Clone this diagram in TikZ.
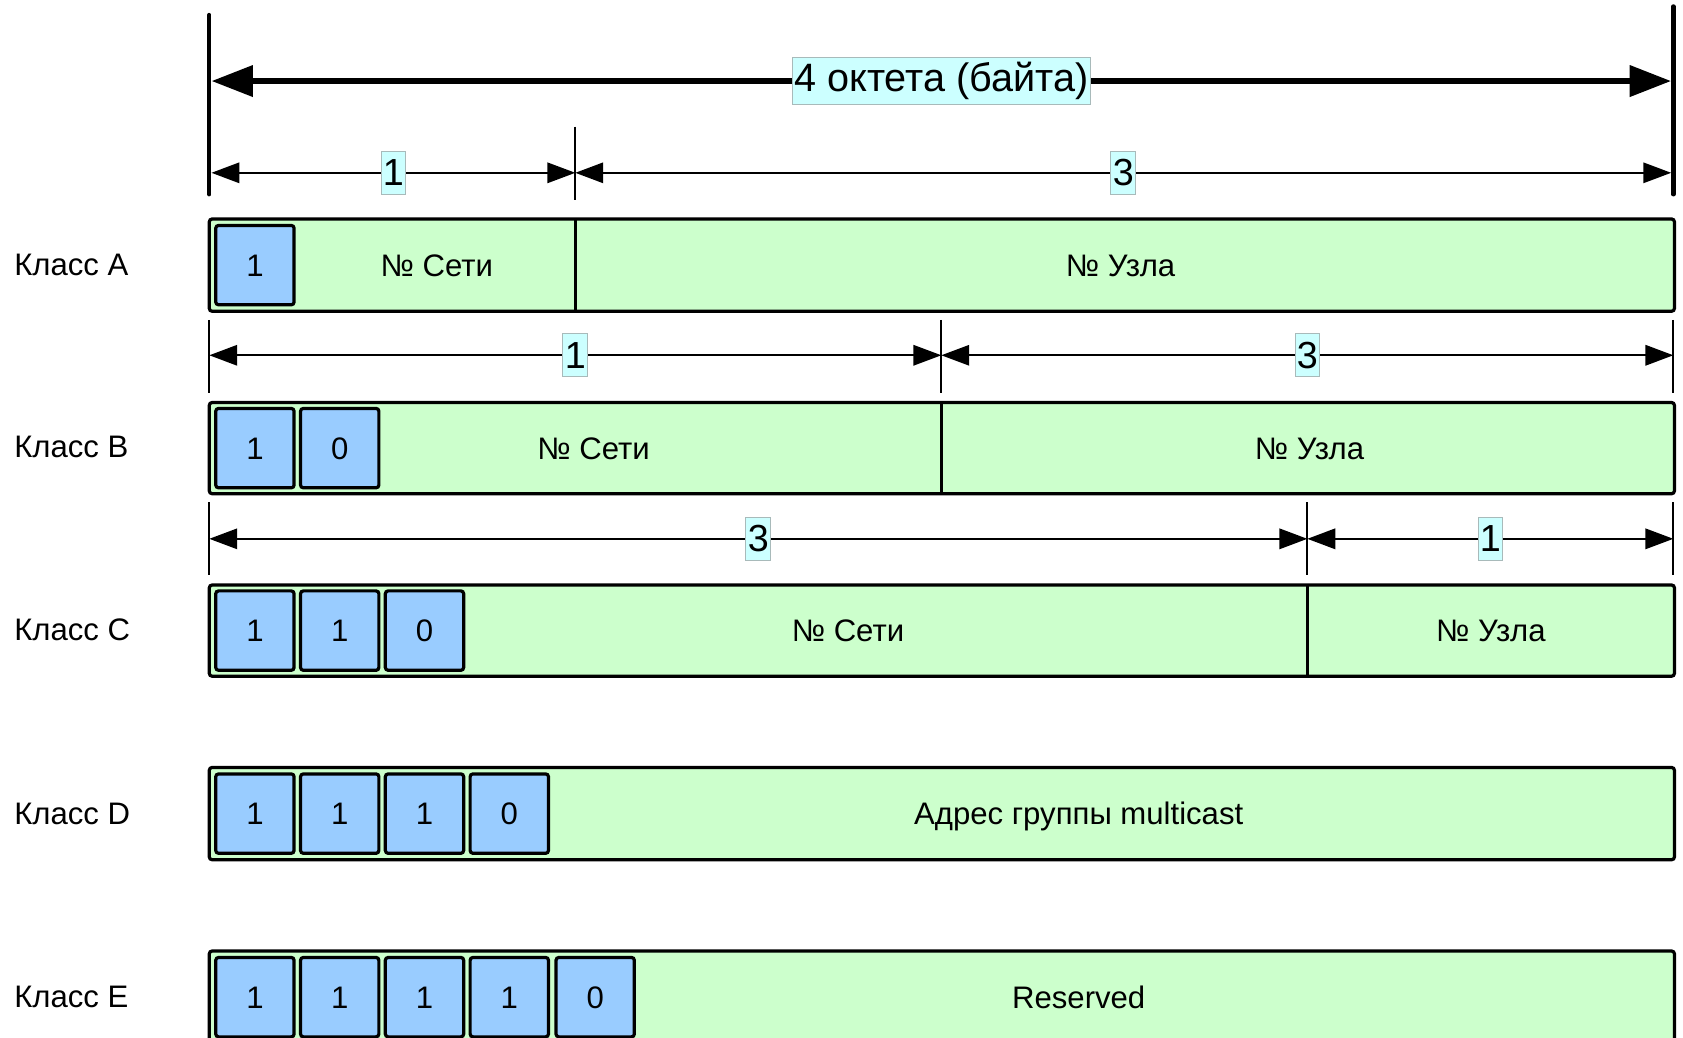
\documentclass[tikz,border=0pt]{standalone}
\usepackage{fontspec}
\setmainfont{Liberation Sans}
\usetikzlibrary{arrows.meta}
\definecolor{fieldgreen}{HTML}{CCFFCC}
\definecolor{bitblue}{HTML}{99CCFF}
\definecolor{tagcyan}{HTML}{CCFFFF}
\definecolor{taggray}{HTML}{A8BABA}
\begin{document}
\begin{tikzpicture}[x=0.02cm,y=-0.02cm,
  txt/.style={font=\fontsize{16.5}{18}\selectfont,text height=11.9pt,text depth=0pt},
  bar/.style={draw=black,fill=fieldgreen,line width=1.7pt,rounded corners=1.5pt},
  bit/.style={txt,draw=black,fill=bitblue,line width=1.7pt,rounded corners=1.5pt,minimum width=1.46cm,minimum height=1.48cm,inner sep=0pt},
  sep/.style={line width=1.5pt},
  tick/.style={line width=1.1pt},
  bigtick/.style={line width=2.3pt,line cap=round},
  dimarr/.style={line width=1.1pt,{Triangle[length=14.8pt,width=10.8pt]}-{Triangle[length=14.8pt,width=10.8pt]}},
  bigarr/.style={line width=3.4pt,{Triangle[length=22pt,width=16pt]}-{Triangle[length=22pt,width=16pt]}},
  tag/.style={fill=tagcyan,draw=taggray,line width=0.5pt,inner xsep=1pt,inner ysep=0pt,minimum height=23pt,font=\fontsize{20}{22}\selectfont},
  bigtag/.style={tag,minimum height=24.5pt,font=\fontsize{21}{23}\selectfont}]
\useasboundingbox (0,0) rectangle (1568,967);
% dimension lines
\draw[bigtick] (195,14) -- (195,181);
\draw[bigtick] (1559,6) -- (1559,181);
\coordinate (r0a) at (197,75.5);
\coordinate (r0b) at (1557,75.5);
\draw[bigarr] (r0a) -- node[bigtag] (all) {4 октета (байта)} (r0b);
\draw[tick] (536,118) -- (536,186);
\coordinate (r1a) at (197,161);
\coordinate (r1b) at (536,161);
\coordinate (r1c) at (1557,161);
\draw[dimarr] (r1a) -- node[tag] (n1a) {1} (r1b);
\draw[dimarr] (r1b) -- node[tag] (n1b) {3} (r1c);
\draw[tick] (195,298) -- (195,366);
\draw[tick] (877,298) -- (877,366);
\draw[tick] (1559,298) -- (1559,366);
\coordinate (r2a) at (195,331);
\coordinate (r2b) at (877,331);
\coordinate (r2c) at (1559,331);
\draw[dimarr] (r2a) -- node[tag] (n2a) {1} (r2b);
\draw[dimarr] (r2b) -- node[tag] (n2b) {3} (r2c);
\draw[tick] (195,468) -- (195,536);
\draw[tick] (1218,468) -- (1218,536);
\draw[tick] (1559,468) -- (1559,536);
\coordinate (r3a) at (195,502);
\coordinate (r3b) at (1218,502);
\coordinate (r3c) at (1559,502);
\draw[dimarr] (r3a) -- node[tag] (n3a) {3} (r3b);
\draw[dimarr] (r3b) -- node[tag] (n3b) {1} (r3c);
% address bars
\draw[bar] (195,204) rectangle (1560,290);
\draw[bar] (195,375) rectangle (1560,460);
\draw[bar] (195,545) rectangle (1560,630);
\draw[bar] (195,715) rectangle (1560,801);
\draw[bar] (195,886) rectangle (1560,972);
\draw[sep] (536,204) -- (536,290);
\draw[sep] (877,375) -- (877,460);
\draw[sep] (1218,545) -- (1218,630);
% class names
\node[txt,anchor=west,inner xsep=0pt] (clsA) at (13,246) {Класс A};
\node[txt,anchor=west,inner xsep=0pt] (clsB) at (13,416) {Класс B};
\node[txt,anchor=west,inner xsep=0pt] (clsC) at (13,586) {Класс C};
\node[txt,anchor=west,inner xsep=0pt] (clsD) at (13,758) {Класс D};
\node[txt,anchor=west,inner xsep=0pt] (clsE) at (13,928) {Класс E};
% leading bits
\node[bit] (bA1) at (237.5,247) {1};
\node[bit] (bB1) at (237.5,417.5) {1};
\node[bit] (bB2) at (316.5,417.5) {0};
\node[bit] (bC1) at (237.5,587.5) {1};
\node[bit] (bC2) at (316.5,587.5) {1};
\node[bit] (bC3) at (395.5,587.5) {0};
\node[bit] (bD1) at (237.5,758) {1};
\node[bit] (bD2) at (316.5,758) {1};
\node[bit] (bD3) at (395.5,758) {1};
\node[bit] (bD4) at (474.5,758) {0};
\node[bit] (bE1) at (237.5,929) {1};
\node[bit] (bE2) at (316.5,929) {1};
\node[bit] (bE3) at (395.5,929) {1};
\node[bit] (bE4) at (474.5,929) {1};
\node[bit] (bE5) at (554.5,929) {0};
% fields
\node[txt] (netA) at (407,247) {№ Сети};
\node[txt] (hostA) at (1044,247) {№ Узла};
\node[txt] (netB) at (553,417.5) {№ Сети};
\node[txt] (hostB) at (1220,417.5) {№ Узла};
\node[txt] (netC) at (790,587.5) {№ Сети};
\node[txt] (hostC) at (1389,587.5) {№ Узла};
\node[txt] (grpD) at (1005,758) {Адрес группы multicast};
\node[txt] (resE) at (1005,929) {Reserved};
\end{tikzpicture}
\end{document}
